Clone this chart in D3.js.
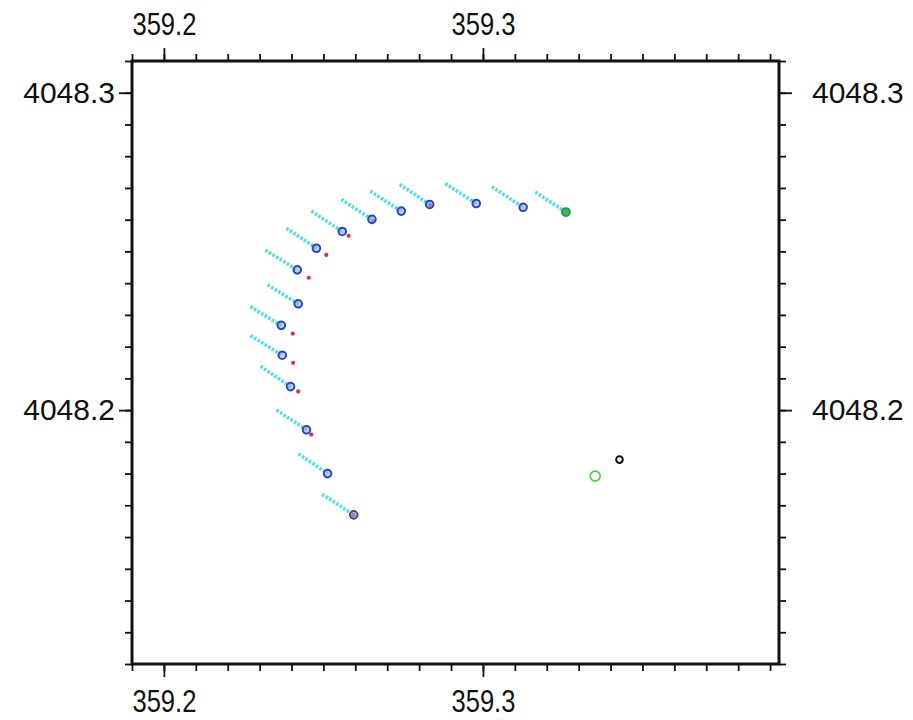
<!DOCTYPE html>
<html>
<head>
<meta charset="utf-8">
<script src="https://cdn.jsdelivr.net/npm/d3@7"></script>
<style>
  html, body { margin: 0; padding: 0; background: #fff; }
  svg { display: block; }
  text { font-family: "Liberation Sans", Arial, Helvetica, sans-serif; fill: #111; }
</style>
</head>
<body>
<svg id="chart" width="913" height="720"></svg>
<script>
// Track positions (easting / northing, km)
const trackX = [359.2595, 359.2513, 359.2447, 359.2397, 359.2371, 359.2368, 359.2421, 359.2418,
                359.2478, 359.2559, 359.2652, 359.2744, 359.2833, 359.2979, 359.3126, 359.3260];
const trackY = [4048.1670, 4048.1800, 4048.1938, 4048.2074, 4048.2173, 4048.2267, 4048.2335, 4048.2442,
                4048.2510, 4048.2563, 4048.2601, 4048.2627, 4048.2648, 4048.2651, 4048.2639, 4048.2624];
// Origin of each displacement tail
const tailX = [359.2496, 359.2422, 359.2353, 359.2303, 359.2271, 359.2271, 359.2325, 359.2318,
               359.2384, 359.2462, 359.2556, 359.2647, 359.2739, 359.2882, 359.3028, 359.3164];
const tailY = [4048.1735, 4048.1862, 4048.2000, 4048.2138, 4048.2235, 4048.2326, 4048.2395, 4048.2504,
               4048.2573, 4048.2627, 4048.2664, 4048.2690, 4048.2711, 4048.2714, 4048.2704, 4048.2687];
// Secondary estimates (red)
const estX = [359.2594, 359.2462, 359.2421, 359.2405, 359.2404, 359.2454, 359.2509, 359.2579, 359.2656, 359.2835];
const estY = [4048.1669, 4048.1923, 4048.2059, 4048.2149, 4048.2241, 4048.2417, 4048.2489, 4048.2549, 4048.2595, 4048.2645];
// Reference stations
const refBlackX = [359.3428], refBlackY = [4048.1844];
const refGreenX = [359.3352], refGreenY = [4048.1792];

// Axis ticks
const xMajor = [359.2, 359.3];
const yMajor = [4048.2, 4048.3];
const xLabels = ["359.2", "359.3"];
const yLabels = ["4048.2", "4048.3"];
const xDomain = [359.19, 359.3928];
const yDomain = [4048.12, 4048.31];

const svg = d3.select("#chart");
const L = 132, R = 779, T = 61, B = 664;

const x = d3.scaleLinear().domain(xDomain).range([L, R]);
const y = d3.scaleLinear().domain(yDomain).range([B, T]);

const xMinor = d3.range(0, 21).map(i => +(359.19 + i * 0.01).toFixed(2));
const yMinor = d3.range(0, 20).map(i => +(4048.12 + i * 0.01).toFixed(2));

const majLen = 13, minLen = 7;

function styleAxis(g) {
  g.select(".domain").remove();
  g.selectAll(".tick line").attr("stroke", "#111").attr("stroke-width", 1.8);
}

// minor ticks
svg.append("g").attr("transform", `translate(0,${T})`)
  .call(d3.axisTop(x).tickValues(xMinor).tickSize(minLen).tickFormat(""))
  .call(styleAxis);
svg.append("g").attr("transform", `translate(0,${B})`)
  .call(d3.axisBottom(x).tickValues(xMinor).tickSize(minLen).tickFormat(""))
  .call(styleAxis);
svg.append("g").attr("transform", `translate(${L},0)`)
  .call(d3.axisLeft(y).tickValues(yMinor).tickSize(minLen).tickFormat(""))
  .call(styleAxis);
svg.append("g").attr("transform", `translate(${R},0)`)
  .call(d3.axisRight(y).tickValues(yMinor).tickSize(minLen).tickFormat(""))
  .call(styleAxis);

// major ticks with labels
const xFmt = (d, i) => xLabels[i];
const yFmt = (d, i) => yLabels[i];

const gTop = svg.append("g").attr("transform", `translate(0,${T})`)
  .call(d3.axisTop(x).tickValues(xMajor).tickSize(majLen).tickPadding(13).tickFormat(xFmt))
  .call(styleAxis);
const gBot = svg.append("g").attr("transform", `translate(0,${B})`)
  .call(d3.axisBottom(x).tickValues(xMajor).tickSize(majLen).tickPadding(13).tickFormat(xFmt))
  .call(styleAxis);
const gLeft = svg.append("g").attr("transform", `translate(${L},0)`)
  .call(d3.axisLeft(y).tickValues(yMajor).tickSize(majLen).tickPadding(4).tickFormat(yFmt))
  .call(styleAxis);
const gRight = svg.append("g").attr("transform", `translate(${R},0)`)
  .call(d3.axisRight(y).tickValues(yMajor).tickSize(majLen).tickPadding(20).tickFormat(yFmt))
  .call(styleAxis);

// x labels are set in a tall, condensed face
[gTop, gBot].forEach(g => g.selectAll(".tick text")
  .style("font-family", "'Liberation Sans', Arial, sans-serif")
  .style("font-size", "31px").attr("fill", "#111")
  .attr("textLength", 64).attr("lengthAdjust", "spacingAndGlyphs"));
[gLeft, gRight].forEach(g => g.selectAll(".tick text")
  .style("font-family", "'Liberation Sans', Arial, sans-serif")
  .style("font-size", "30px").attr("fill", "#111"));

// frame
svg.append("rect")
  .attr("x", L).attr("y", T).attr("width", R - L).attr("height", B - T)
  .attr("fill", "none").attr("stroke", "#111").attr("stroke-width", 3);

const plot = svg.append("g");

// displacement tails
plot.selectAll("line.tail").data(trackX).join("line")
  .attr("class", "tail")
  .attr("x1", (d, i) => x(tailX[i])).attr("y1", (d, i) => y(tailY[i]))
  .attr("x2", (d, i) => x(d)).attr("y2", (d, i) => y(trackY[i]))
  .attr("stroke", "#52dfe6").attr("stroke-width", 3.6)
  .attr("stroke-dasharray", "2.6,1.6");

// red estimates
plot.selectAll("circle.est").data(estX).join("circle")
  .attr("class", "est")
  .attr("cx", d => x(d)).attr("cy", (d, i) => y(estY[i]))
  .attr("r", 2.1).attr("fill", "#d8304a");

// track positions
const n = trackX.length;
plot.selectAll("circle.pos").data(trackX).join("circle")
  .attr("class", "pos")
  .attr("cx", d => x(d)).attr("cy", (d, i) => y(trackY[i]))
  .attr("r", (d, i) => i === n - 1 ? 3.9 : 3.8)
  .attr("fill", (d, i) => i === n - 1 ? "#35c060" : "rgba(140,170,225,0.6)")
  .attr("stroke", (d, i) => i === n - 1 ? "#2a9a4a" : (i === 0 ? "#5a3f8a" : "#2d48b4"))
  .attr("stroke-width", 2);

// reference stations
plot.selectAll("circle.refG").data(refGreenX).join("circle")
  .attr("class", "refG")
  .attr("cx", d => x(d)).attr("cy", (d, i) => y(refGreenY[i]))
  .attr("r", 5).attr("fill", "none").attr("stroke", "#44d444").attr("stroke-width", 1.6);
plot.selectAll("circle.refB").data(refBlackX).join("circle")
  .attr("class", "refB")
  .attr("cx", d => x(d)).attr("cy", (d, i) => y(refBlackY[i]))
  .attr("r", 3.3).attr("fill", "none").attr("stroke", "#111").attr("stroke-width", 2);
</script>
</body>
</html>
